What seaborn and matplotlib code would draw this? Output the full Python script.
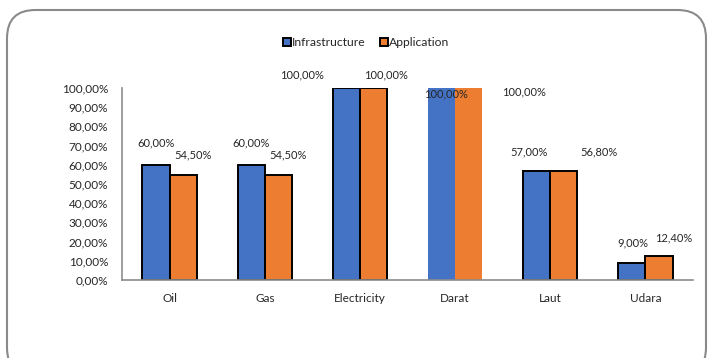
import matplotlib
matplotlib.use("Agg")
import matplotlib.pyplot as plt
import seaborn as sns
import pandas as pd
from matplotlib.patches import FancyBboxPatch
from matplotlib.ticker import FuncFormatter

categories = ["Oil", "Gas", "Electricity", "Darat", "Laut", "Udara"]
infrastructure = [60.0, 60.0, 100.0, 100.0, 57.0, 9.0]
application = [54.5, 54.5, 100.0, 100.0, 56.8, 12.4]
series = ["Infrastructure", "Application"]
colors = ["#4472C4", "#ED7D31"]
yticks = [0, 10, 20, 30, 40, 50, 60, 70, 80, 90, 100]

# label offsets in pixels (dx, dy) relative to bar top-centre
infra_off = [(0, 22), (0, 22), (-44, 13), (4, -6), (-8, 19), (1, 20)]
app_off = [(10, 20), (10, 20), (13, 13), (55, -4), (35, 19), (15, 18)]

df = pd.DataFrame({
    "category": categories * 2,
    "value": infrastructure + application,
    "series": [series[0]] * len(categories) + [series[1]] * len(categories),
})

sns.set_style("white")
plt.rcParams["font.family"] = ["Lato", "DejaVu Sans"]
FS_LAB = 8.0
FS_TICK = 8.5
FS_LEG = 8.7

fig = plt.figure(figsize=(7.1, 3.58), dpi=100)
ax = fig.add_axes([122 / 710, 1 - 280 / 358, (693 - 122) / 710, (280 - 88) / 358])

sns.barplot(data=df, x="category", y="value", hue="series", order=categories,
            hue_order=series, palette=colors, width=0.57, gap=0, ax=ax,
            edgecolor="black", linewidth=1.4, saturation=1, legend=True)

def fmt(v):
    return f"{v:.2f}%".replace(".", ",")

for ci, (cont, offs) in enumerate(zip(ax.containers, [infra_off, app_off])):
    for i, (patch, off) in enumerate(zip(cont.patches, offs)):
        if categories[i] == "Darat":
            patch.set_linewidth(0)
        h = patch.get_height()
        xc = patch.get_x() + patch.get_width() / 2
        ax.annotate(fmt(h), xy=(xc, h), xytext=off, textcoords="offset pixels",
                    ha="center", va="center", fontsize=FS_LAB, color="#262626",
                    annotation_clip=False, zorder=5)

ax.set_xlim(-0.5, 5.5)
ax.set_ylim(0, 100)
ax.set_yticks(yticks)
ax.yaxis.set_major_formatter(FuncFormatter(lambda v, p: fmt(v)))
ax.tick_params(axis="both", length=0, labelsize=FS_TICK, colors="#262626")
ax.tick_params(axis="y", pad=10)
ax.tick_params(axis="x", pad=9)
ax.set_xlabel("")
ax.set_ylabel("")
for s in ["top", "right"]:
    ax.spines[s].set_visible(False)
for s in ["left", "bottom"]:
    ax.spines[s].set_color("#8C8C8C")
    ax.spines[s].set_linewidth(1.2)
ax.grid(False)

handles, labels = ax.get_legend_handles_labels()
ax.get_legend().remove()
leg = fig.legend(handles, labels, loc="center", bbox_to_anchor=(366 / 710, 1 - 43 / 358),
                 ncol=2, frameon=False, fontsize=FS_LEG, handlelength=0.65, handleheight=0.65,
                 handletextpad=0.1, columnspacing=1.2, borderaxespad=0)
for h in leg.legend_handles:
    h.set_edgecolor("black")
    h.set_linewidth(1.4)

box = FancyBboxPatch((7 / 710, -0.05), 699 / 710, 1 - 10 / 358 + 0.05,
                     boxstyle="round,pad=0,rounding_size=0.04",
                     transform=fig.transFigure, facecolor="none",
                     edgecolor="#8A8A8A", linewidth=1.5, mutation_aspect=710 / 358)
fig.patches.append(box)

fig.savefig("out.png", dpi=100)
